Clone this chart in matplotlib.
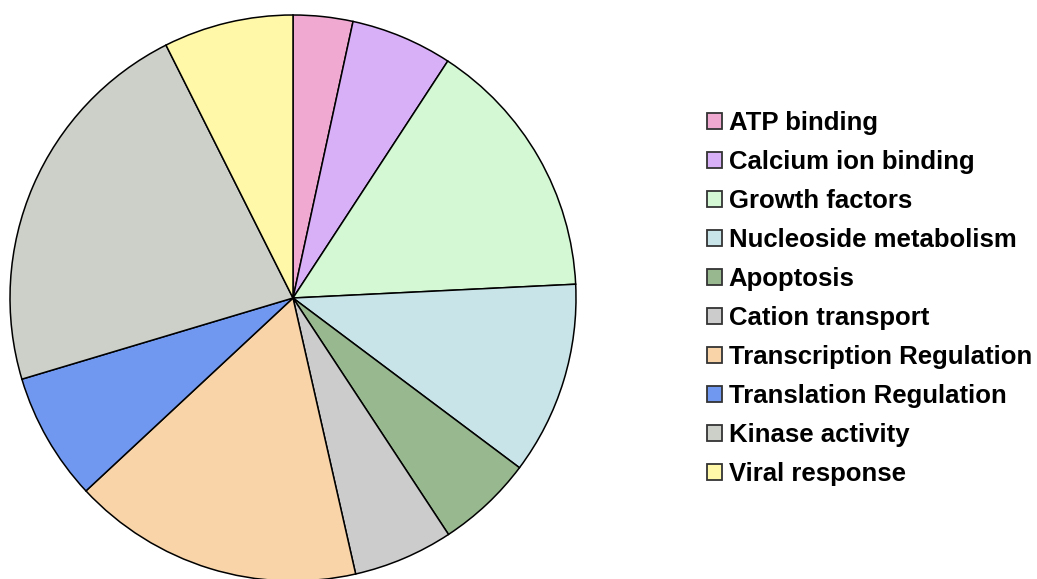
import matplotlib.pyplot as plt
from matplotlib.patches import Patch

# -------------------------------
# Daten
# -------------------------------
categories = [
    "ATP binding", "Calcium ion binding", "Growth factors",
    "Nucleoside metabolism", "Apoptosis", "Cation transport",
    "Transcription Regulation", "Translation Regulation",
    "Kinase activity", "Viral response",
]
shares = [3.4, 5.8, 15.0, 11.0, 5.5, 5.7, 16.6, 7.3, 22.2, 7.4]
colors = [
    "#f0aad2", "#d8b0f8", "#d4f8d4", "#c8e4e8", "#98b890",
    "#cccccc", "#f8d4a8", "#7098f0", "#ccd0c8", "#fff8a8",
]

# -------------------------------
# Figur
# -------------------------------
fig = plt.figure(figsize=(10.37, 5.79), dpi=100)
ax = fig.add_axes([10 / 1037, -2 / 579, 566 / 1037, 566 / 579])

ax.pie(
    shares,
    colors=colors,
    startangle=90,
    counterclock=False,
    radius=1.0,
    wedgeprops=dict(edgecolor="black", linewidth=1.1),
)
ax.set_xlim(-1.0, 1.0)
ax.set_ylim(-1.0, 1.0)
ax.set_aspect("equal")
ax.axis("off")

handles = [Patch(facecolor=c, edgecolor="#333333", linewidth=1.3) for c in colors]
fig.legend(
    handles, categories,
    loc="upper left",
    bbox_to_anchor=(707 / 1037, 1 - 111 / 579),
    frameon=False,
    prop={"family": "Liberation Sans", "weight": "bold", "size": 18.5},
    handlelength=0.6,
    handleheight=0.6,
    handletextpad=0.25,
    labelspacing=0.585,
    borderaxespad=0,
    borderpad=0,
)

plt.savefig("out.png", dpi=100)
